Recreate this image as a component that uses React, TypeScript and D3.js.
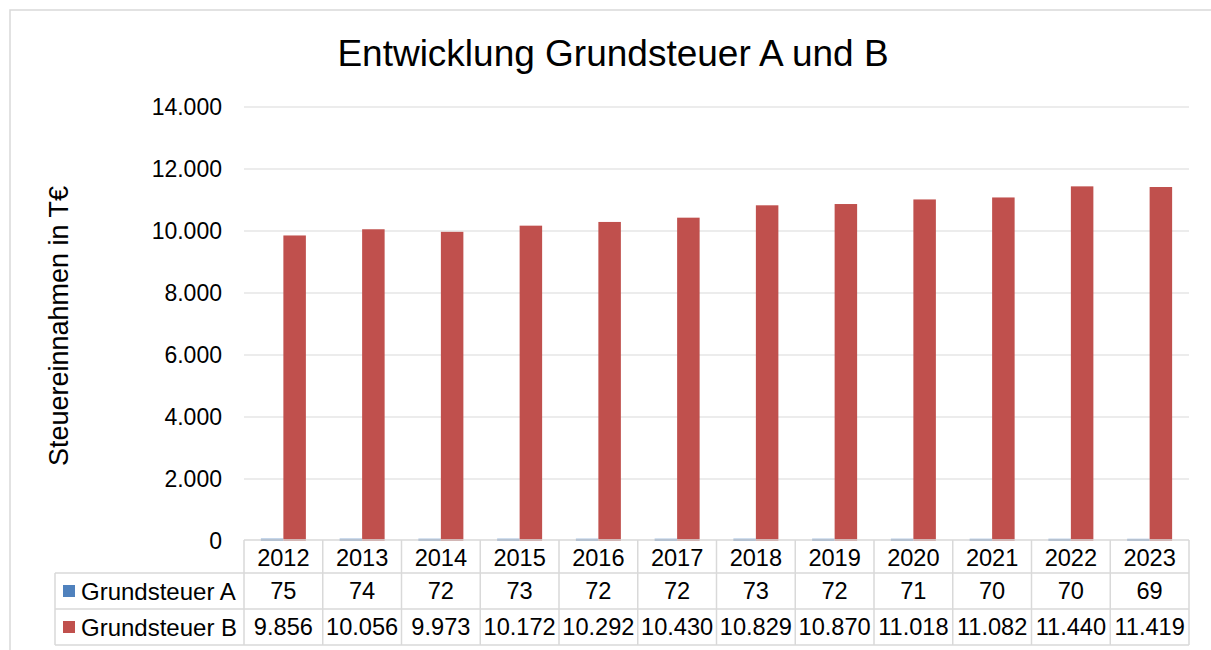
import React from "react";
import * as d3 from "d3";

const years = ["2012","2013","2014","2015","2016","2017","2018","2019","2020","2021","2022","2023"];
const grundsteuerA = [75,74,72,73,72,72,73,72,71,70,70,69];
const grundsteuerB = [9856,10056,9973,10172,10292,10430,10829,10870,11018,11082,11440,11419];
const yTicks = [0,2000,4000,6000,8000,10000,12000,14000];
const seriesNames = ["Grundsteuer A","Grundsteuer B"];
const seriesColors = ["#4f81bd","#c0504d"];

const W = 1211, H = 650;
const plotL = 244, plotR = 1189, plotT = 107, plotB = 541;
const font = "'Liberation Sans', Arial, sans-serif";
const grid = "#d9d9d9";

const de = d3.formatLocale({ decimal: ",", thousands: ".", grouping: [3], currency: ["", "€"] });
const fmt = de.format(",d");

export default function App() {
  const x0 = d3.scaleBand<string>().domain(years).range([plotL, plotR]).padding(0);
  const x1 = d3.scaleBand<string>().domain(["A","B"]).range([0, x0.bandwidth()]).paddingInner(0).paddingOuter(0.75);
  const y = d3.scaleLinear().domain([0, 14000]).range([plotB, plotT]);
  const series = [grundsteuerA, grundsteuerB];
  const rowTop = [540, 573, 609, 645];
  const legendL = 55;
  const fs = 23;
  const fsT = 23.6;

  return (
    <svg width={W} height={H} style={{ position: "absolute", left: 0, top: 0, background: "#fff" }} fontFamily={font}>
      <rect x={10} y={10} width={W} height={H} fill="#fff" stroke={grid} strokeWidth={1.5} />
      <text x={613} y={66} textAnchor="middle" fontSize={37} fill="#000">Entwicklung Grundsteuer A und B</text>
      {yTicks.map(t => (
        <g key={t}>
          {t > 0 && <line x1={plotL} x2={plotR} y1={y(t)} y2={y(t)} stroke={grid} strokeWidth={1} />}
          <text x={222} y={y(t)} dy="0.36em" textAnchor="end" fontSize={fs} fill="#000">{fmt(t)}</text>
        </g>
      ))}
      <text transform={`translate(68,326) rotate(-90)`} textAnchor="middle" fontSize={27} fill="#000">Steuereinnahmen in T€</text>
      {years.map((yr, i) => (
        <g key={yr}>
          {series.map((s, k) => {
            const key = k === 0 ? "A" : "B";
            const bx = (x0(yr) as number) + (x1(key) as number);
            return <rect key={key} x={bx} y={y(s[i])} width={x1.bandwidth()} height={plotB - y(s[i])} fill={seriesColors[k]} />;
          })}
        </g>
      ))}
      {/* data table */}
      <g stroke={grid} strokeWidth={1.5} fill="none">
        <line x1={plotL} x2={plotR} y1={rowTop[0]} y2={rowTop[0]} />
        {rowTop.slice(1).map(r => <line key={r} x1={legendL} x2={plotR} y1={r} y2={r} />)}
        <line x1={legendL} x2={legendL} y1={rowTop[1]} y2={rowTop[3]} />
        {years.map((yr) => <line key={yr} x1={x0(yr) as number} x2={x0(yr) as number} y1={rowTop[0]} y2={rowTop[3]} />)}
        <line x1={plotR} x2={plotR} y1={rowTop[0]} y2={rowTop[3]} />
      </g>
      {years.map((yr) => (
        <text key={yr} x={(x0(yr) as number) + x0.bandwidth() / 2} y={(rowTop[0] + rowTop[1]) / 2 + 1} dy="0.36em" textAnchor="middle" fontSize={fsT}>{yr}</text>
      ))}
      {series.map((s, k) => {
        const cy = (rowTop[k + 1] + rowTop[k + 2]) / 2;
        return (
          <g key={k}>
            <rect x={63} y={cy - 6} width={12} height={12} fill={seriesColors[k]} />
            <text x={81} y={cy} dy="0.36em" fontSize={24}>{seriesNames[k]}</text>
            {s.map((v, i) => (
              <text key={i} x={(x0(years[i]) as number) + x0.bandwidth() / 2} y={cy} dy="0.36em" textAnchor="middle" fontSize={fsT}>{fmt(v)}</text>
            ))}
          </g>
        );
      })}
    </svg>
  );
}
